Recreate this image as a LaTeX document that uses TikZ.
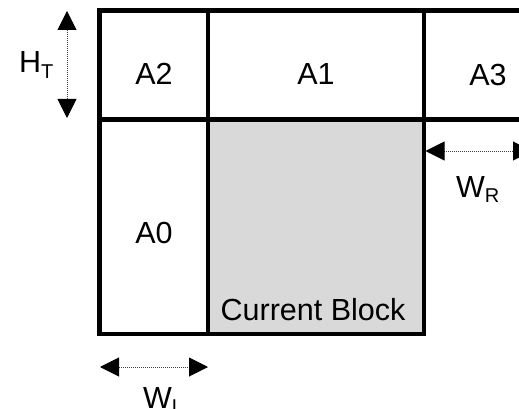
\documentclass[tikz,border=0pt]{standalone}
\usepackage{fontspec}
\setmainfont{Liberation Sans}
\usetikzlibrary{arrows.meta}
\begin{document}
\begin{tikzpicture}[x=1pt,y=-1pt,
  gridline/.style={line width=4.2pt,line cap=rect,line join=miter},
  dimarrow/.style={densely dotted,line width=1pt,black!75,
    {Triangle[length=19pt,width=19pt,fill=black,color=black]}-{Triangle[length=19pt,width=19pt,fill=black,color=black]}},
  celltext/.style={font=\fontsize{30.5}{36}\selectfont,inner sep=0pt},
  dimtext/.style={font=\fontsize{30.5}{36}\selectfont,inner sep=0pt,anchor=base west}]
\useasboundingbox (0,0) rectangle (519,409);
% current block fill
\fill[black!15] (208,119.5) rectangle (424,334);
% grid
\draw[gridline] (530,10.5) -- (99.5,10.5) -- (99.5,334) -- (424,334) -- (424,10.5);
\draw[gridline] (99.5,119.5) -- (530,119.5);
\draw[gridline] (208,10.5) -- (208,334);
% cell labels
\node[celltext] (a2) at (154,74) {A2};
\node[celltext] (a1) at (316,74) {A1};
\node[celltext] (a3) at (488,75) {A3};
\node[celltext] (a0) at (154,233) {A0};
\node[celltext] (cb) at (313,310) {Current Block};
% dimension arrows
\coordinate (ht1) at (67,11);
\coordinate (ht2) at (67,118);
\draw[dimarrow] (ht1) -- (ht2);
\coordinate (wr1) at (425.5,151);
\coordinate (wr2) at (532,151);
\draw[dimarrow] (wr1) -- (wr2);
\coordinate (wl1) at (100,367);
\coordinate (wl2) at (208,367);
\draw[dimarrow] (wl1) -- (wl2);
% dimension labels
\node[dimtext] (htl) at (19,73) {H\textsubscript{\fontsize{20}{22}\selectfont T}};
\node[dimtext] (wrl) at (456,197) {W\textsubscript{\fontsize{20}{22}\selectfont R}};
\node[dimtext] (wll) at (143,408) {W\textsubscript{\fontsize{20}{22}\selectfont L}};
\end{tikzpicture}
\end{document}
